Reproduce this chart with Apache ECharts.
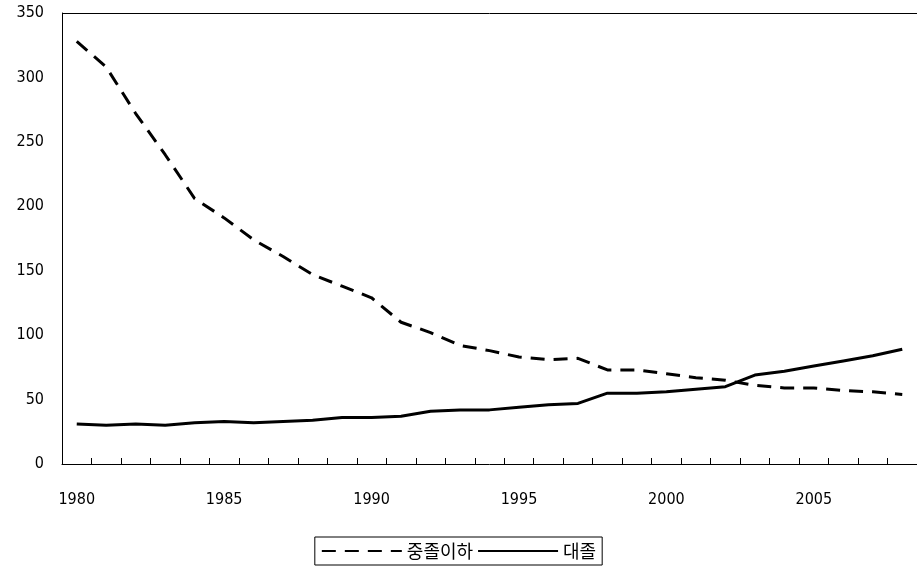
<!DOCTYPE html>
<html>
<head>
<meta charset="utf-8">
<script src="https://cdn.jsdelivr.net/npm/echarts@6/dist/echarts.min.js"></script>
<style>html,body{margin:0;padding:0;background:#fff}#main{width:917px;height:567px}</style>
</head>
<body>
<div id="main"></div>
<script>
// 연도
var years = [];
for (var y = 1980; y <= 2008; y++) years.push(String(y));
// 중졸이하
var middleSchool = [328, 308, 272, 240, 206, 191, 174, 161, 147, 138, 129, 110, 102, 92, 88, 83, 81, 82, 73, 73, 70, 67, 65, 61, 59, 59, 57, 56, 54];
// 대졸
var college = [31, 30, 31, 30, 32, 33, 32, 33, 34, 36, 36, 37, 41, 42, 42, 44, 46, 47, 55, 55, 56, 58, 60, 69, 72, 76, 80, 84, 89];

var chart = echarts.init(document.getElementById('main'));
var font = 'DejaVu Sans Condensed';
chart.setOption({
    animation: false,
    grid: { left: 62, width: 863, top: 13, height: 451 },
    legend: {
        bottom: 2, left: 'center',
        borderColor: '#000', borderWidth: 1, padding: [5, 6],
        itemWidth: 80, itemHeight: 14, itemGap: 4,
        itemStyle: { color: 'transparent', borderWidth: 0 },
        textStyle: { fontFamily: 'Noto Sans CJK KR', fontSize: 18, color: '#000' },
        data: ['중졸이하', '대졸']
    },
    xAxis: {
        type: 'category', data: years, boundaryGap: true,
        axisLine: { lineStyle: { color: '#000' } },
        axisTick: { show: true, interval: 0, length: 6, inside: true, lineStyle: { color: '#000' } },
        axisLabel: { interval: 4, margin: 28, color: '#000', fontFamily: font, fontSize: 16 }
    },
    yAxis: {
        type: 'value', min: 0, max: 350, interval: 50,
        axisLine: { show: true, lineStyle: { color: '#000' } },
        axisTick: { show: false },
        axisLabel: { color: '#000', fontFamily: font, fontSize: 16, margin: 18 },
        splitLine: { show: true, lineStyle: { color: ['transparent', 'transparent', 'transparent', 'transparent', 'transparent', 'transparent', 'transparent', '#000'] } }
    },
    series: [
        { name: '중졸이하', type: 'line', data: middleSchool, symbol: 'none',
          color: '#000', lineStyle: { color: '#000', width: 3, type: [14, 9] } },
        { name: '대졸', type: 'line', data: college, symbol: 'none',
          color: '#000', lineStyle: { color: '#000', width: 3 } }
    ]
});
</script>
</body>
</html>
